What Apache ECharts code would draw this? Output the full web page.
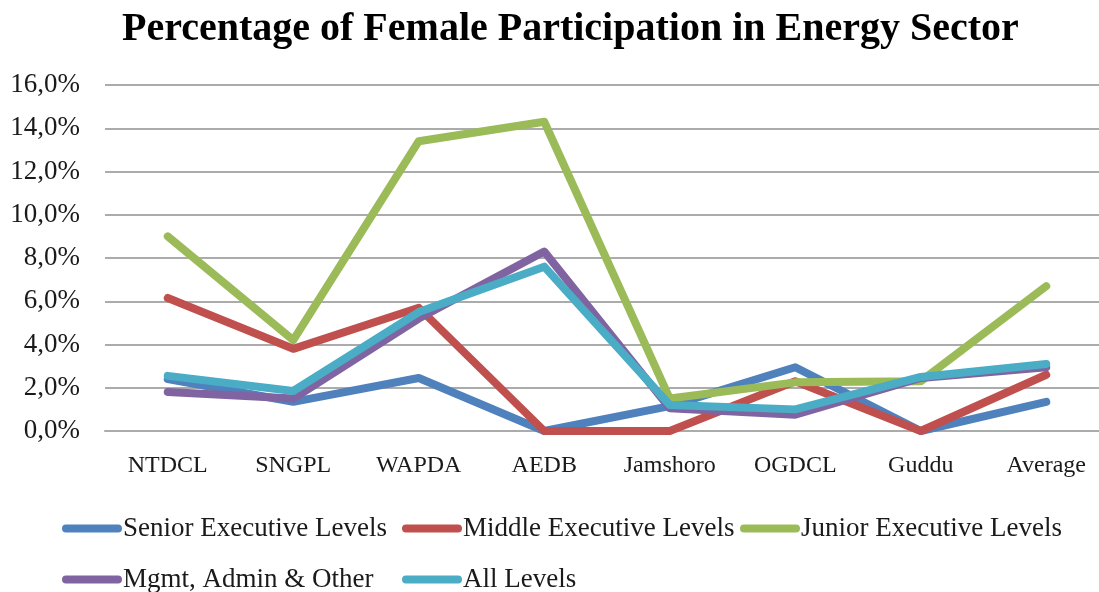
<!DOCTYPE html>
<html>
<head>
<meta charset="utf-8">
<title>Percentage of Female Participation in Energy Sector</title>
<script src="https://cdn.jsdelivr.net/npm/echarts@6/dist/echarts.min.js"></script>
<style>
  html, body { margin: 0; padding: 0; background: #fff; }
  #chart { width: 1099px; height: 592px; }
</style>
</head>
<body>
<div id="chart"></div>
<script>
// 横轴分类
var categories = ["NTDCL", "SNGPL", "WAPDA", "AEDB", "Jamshoro", "OGDCL", "Guddu", "Average"];
// 各级别女性占比(%)
var seniorData = [2.4, 1.35, 2.45, 0.0, 1.15, 2.95, 0.0, 1.35];
var middleData = [6.15, 3.8, 5.7, 0.0, 0.0, 2.3, 0.0, 2.6];
var juniorData = [9.0, 4.2, 13.4, 14.3, 1.5, 2.25, 2.3, 6.7];
var mgmtData = [1.8, 1.5, 5.2, 8.3, 1.05, 0.75, 2.45, 2.95];
var allData = [2.55, 1.85, 5.5, 7.6, 1.2, 1.0, 2.5, 3.1];
// 系列名称
var seriesNames = ["Senior Executive Levels", "Middle Executive Levels", "Junior Executive Levels",
  "Mgmt, Admin & Other", "All Levels"];
// 纵轴刻度
var yMin = 0;
var yMax = 16;
var yStep = 2;

var serifFont = "'Liberation Serif', 'DejaVu Serif', serif";
var colors = ["#4F81BD", "#C0504D", "#9BBB59", "#8064A2", "#4BACC6"];
// 图例前面的圆头线段
var pill = "path://M4,0 L56,0 A4,4 0 0 1 56,8 L4,8 A4,4 0 0 1 4,0 Z";
// 图例位置 (两行三列)
var legendPos = [[62, 515], [402, 515], [740, 515], [62, 566], [402, 566]];

var chart = echarts.init(document.getElementById("chart"));

function makeLine(name, color, data) {
  return {
    name: name,
    type: "line",
    data: data,
    symbol: "none",
    color: color,
    lineStyle: {
      width: 8,
      color: color,
      cap: "round",
      join: "round"
    },
    animation: false
  };
}

// 每个图例单独放置, 保证列对齐
var legends = seriesNames.map(function (name, i) {
  return {
    left: legendPos[i][0],
    top: legendPos[i][1],
    itemWidth: 60,
    itemHeight: 9,
    itemGap: 0,
    icon: pill,
    padding: 0,
    textStyle: {
      fontFamily: serifFont,
      fontSize: 27,
      color: "#1a1a1a",
      padding: [0, 0, 0, -4]
    },
    data: [name]
  };
});

chart.setOption({
  title: {
    text: "Percentage of Female Participation in Energy Sector",
    left: 117,
    top: 5,
    textStyle: {
      fontFamily: serifFont,
      fontWeight: "bold",
      fontSize: 40,
      color: "#000"
    }
  },
  grid: {
    left: 105,
    width: 1004,
    top: 85,
    bottom: 161,
    outerBoundsMode: "none"
  },
  xAxis: {
    type: "category",
    data: categories,
    boundaryGap: true,
    axisTick: { show: false },
    axisLine: {
      lineStyle: { color: "#ababab", width: 2 }
    },
    axisLabel: {
      margin: 23,
      fontFamily: serifFont,
      fontSize: 24,
      color: "#1a1a1a"
    }
  },
  yAxis: {
    type: "value",
    min: yMin,
    max: yMax,
    interval: yStep,
    axisLine: { show: false },
    axisTick: { show: false },
    splitLine: {
      lineStyle: { color: "#ababab", width: 2 }
    },
    axisLabel: {
      margin: 25,
      fontFamily: serifFont,
      fontSize: 27,
      color: "#1a1a1a",
      formatter: function (v) {
        return v.toFixed(1).replace(".", ",") + "%";
      }
    }
  },
  legend: legends,
  series: [
    makeLine(seriesNames[0], colors[0], seniorData),
    makeLine(seriesNames[1], colors[1], middleData),
    makeLine(seriesNames[2], colors[2], juniorData),
    makeLine(seriesNames[3], colors[3], mgmtData),
    makeLine(seriesNames[4], colors[4], allData)
  ]
});
</script>
</body>
</html>
